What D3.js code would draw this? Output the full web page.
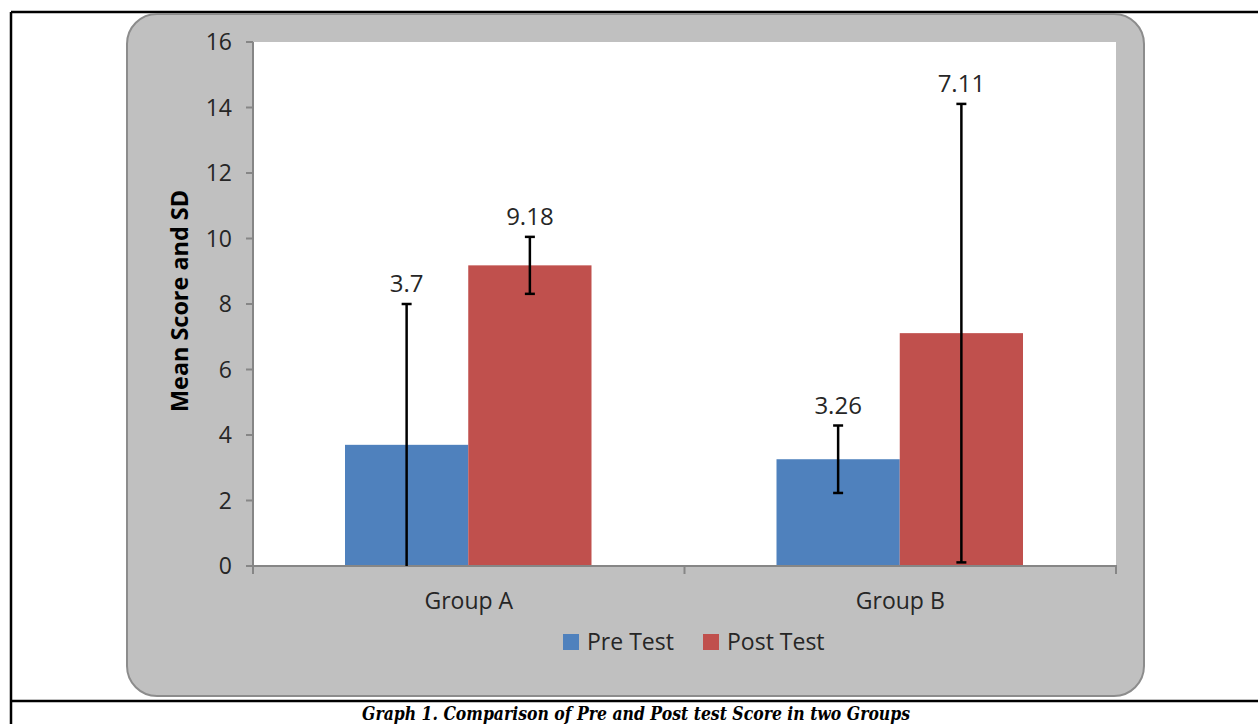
<!DOCTYPE html>
<html>
<head>
<meta charset="utf-8">
<script src="https://cdn.jsdelivr.net/npm/d3@7"></script>
<style>
  body { margin: 0; background: #fff; }
  text { font-family: "Open Sans", "DejaVu Sans", sans-serif; }
</style>
</head>
<body>
<div id="chart-area"></div>
<script>
const groups = ["Group A", "Group B"];
const seriesNames = ["Pre Test", "Post Test"];
const preMeans = [3.7, 3.26];
const postMeans = [9.18, 7.11];
const preSD = [4.3, 1.03];
const postSD = [0.87, 7.0];
const yTicks = [0, 2, 4, 6, 8, 10, 12, 14, 16];
const caption = "Graph 1. Comparison of Pre and Post test Score in two Groups";

const W = 1258, H = 724;
const plot = {left: 253, right: 1116, top: 42, bottom: 566};

const color = d3.scaleOrdinal()
  .domain(seriesNames)
  .range(["#4f81bd", "#c0504d"]);

const svg = d3.select("#chart-area")
  .append("svg")
  .attr("width", W)
  .attr("height", H);

// outer frame lines
svg.append("line").attr("x1", 11).attr("x2", 11).attr("y1", 12).attr("y2", H)
  .attr("stroke", "#000").attr("stroke-width", 2.5);
svg.append("line").attr("x1", 11).attr("x2", W).attr("y1", 12).attr("y2", 12)
  .attr("stroke", "#000").attr("stroke-width", 2.5);
svg.append("line").attr("x1", 11).attr("x2", W).attr("y1", 701).attr("y2", 701)
  .attr("stroke", "#000").attr("stroke-width", 2.5);

// chart panel
svg.append("rect")
  .attr("x", 127).attr("y", 14)
  .attr("width", 1017).attr("height", 682)
  .attr("rx", 30).attr("ry", 30)
  .attr("fill", "#c0c0c0")
  .attr("stroke", "#8c8c8c")
  .attr("stroke-width", 2);

svg.append("rect")
  .attr("x", plot.left).attr("y", plot.top)
  .attr("width", plot.right - plot.left)
  .attr("height", plot.bottom - plot.top)
  .attr("fill", "#fff");

const x0 = d3.scaleBand().domain(groups).range([plot.left, plot.right]);
const x1 = d3.scaleBand().domain(seriesNames).range([92, x0.bandwidth() - 93]);
const y = d3.scaleLinear().domain([0, 16]).range([plot.bottom, plot.top]);

const data = [];
groups.forEach((g, i) => {
  data.push({group: g, series: seriesNames[0], mean: preMeans[i], sd: preSD[i]});
  data.push({group: g, series: seriesNames[1], mean: postMeans[i], sd: postSD[i]});
});

// bars
svg.selectAll(".bar")
  .data(data)
  .enter()
  .append("rect")
  .attr("class", "bar")
  .attr("x", d => x0(d.group) + x1(d.series))
  .attr("width", x1.bandwidth())
  .attr("y", d => y(d.mean))
  .attr("height", d => y(0) - y(d.mean))
  .attr("fill", d => color(d.series));

// axes
const axisColor = "#868686";
svg.append("line")
  .attr("x1", plot.left).attr("x2", plot.left)
  .attr("y1", plot.top).attr("y2", plot.bottom)
  .attr("stroke", axisColor).attr("stroke-width", 2);
svg.append("line")
  .attr("x1", plot.left - 7).attr("x2", plot.right + 1)
  .attr("y1", plot.bottom).attr("y2", plot.bottom)
  .attr("stroke", axisColor).attr("stroke-width", 2);

svg.selectAll(".ytick")
  .data(yTicks)
  .enter()
  .append("line")
  .attr("x1", plot.left - 7).attr("x2", plot.left)
  .attr("y1", d => y(d)).attr("y2", d => y(d))
  .attr("stroke", axisColor).attr("stroke-width", 2);

svg.selectAll(".ylab")
  .data(yTicks)
  .enter()
  .append("text")
  .attr("x", plot.left - 21)
  .attr("y", d => y(d))
  .attr("dy", "0.35em")
  .attr("text-anchor", "end")
  .style("font-size", "23px")
  .style("fill", "#262626")
  .text(d => d);

const xTickPos = [plot.left, ...groups.map(g => x0(g) + x0.bandwidth())];
svg.selectAll(".xtick")
  .data(xTickPos)
  .enter()
  .append("line")
  .attr("x1", d => d).attr("x2", d => d)
  .attr("y1", plot.bottom).attr("y2", plot.bottom + 8)
  .attr("stroke", axisColor).attr("stroke-width", 2);

svg.selectAll(".xlab")
  .data(groups)
  .enter()
  .append("text")
  .attr("x", d => x0(d) + x0.bandwidth() / 2)
  .attr("y", 601)
  .attr("dy", "0.35em")
  .attr("text-anchor", "middle")
  .style("font-size", "23px")
  .style("fill", "#262626")
  .text(d => d);

// error bars
const eb = svg.selectAll(".err")
  .data(data)
  .enter()
  .append("g")
  .attr("transform", d => `translate(${x0(d.group) + x1(d.series) + x1.bandwidth() / 2},0)`);

eb.append("line")
  .attr("y1", d => y(Math.max(0, d.mean - d.sd)))
  .attr("y2", d => y(d.mean + d.sd))
  .attr("stroke", "#000").attr("stroke-width", 2.5);
eb.append("line")
  .attr("x1", -5).attr("x2", 5)
  .attr("y1", d => y(d.mean + d.sd)).attr("y2", d => y(d.mean + d.sd))
  .attr("stroke", "#000").attr("stroke-width", 2.5);
eb.filter(d => d.mean - d.sd > 0).append("line")
  .attr("x1", -5).attr("x2", 5)
  .attr("y1", d => y(d.mean - d.sd)).attr("y2", d => y(d.mean - d.sd))
  .attr("stroke", "#000").attr("stroke-width", 2.5);

eb.append("text")
  .attr("y", d => y(d.mean + d.sd) - 20)
  .attr("dy", "0.35em")
  .attr("text-anchor", "middle")
  .style("font-size", "24px")
  .style("fill", "#262626")
  .text(d => d.mean);

// y axis title
svg.append("text")
  .attr("transform", "translate(180,301) rotate(-90)")
  .attr("dy", "0.35em")
  .attr("text-anchor", "middle")
  .style("font-size", "23px")
  .style("font-weight", "bold")
  .style("fill", "#000")
  .attr("textLength", 222)
  .attr("lengthAdjust", "spacingAndGlyphs")
  .text("Mean Score and SD");

// legend
const legend = svg.selectAll(".legend")
  .data(seriesNames)
  .enter()
  .append("g")
  .attr("transform", (d, i) => `translate(${563 + i * 140},634)`);
legend.append("rect")
  .attr("width", 16).attr("height", 16)
  .attr("fill", d => color(d));
legend.append("text")
  .attr("x", 24).attr("y", 8)
  .attr("dy", "0.35em")
  .style("font-size", "23px")
  .style("fill", "#262626")
  .text(d => d);

// caption
svg.append("text")
  .attr("x", 636).attr("y", 714)
  .attr("dy", "0.35em")
  .attr("text-anchor", "middle")
  .style("font-family", "'DejaVu Serif', 'Liberation Serif', serif")
  .style("font-size", "18px")
  .style("font-weight", "bold")
  .style("font-style", "italic")
  .attr("textLength", 548)
  .attr("lengthAdjust", "spacingAndGlyphs")
  .text(caption);
</script>
</body>
</html>
